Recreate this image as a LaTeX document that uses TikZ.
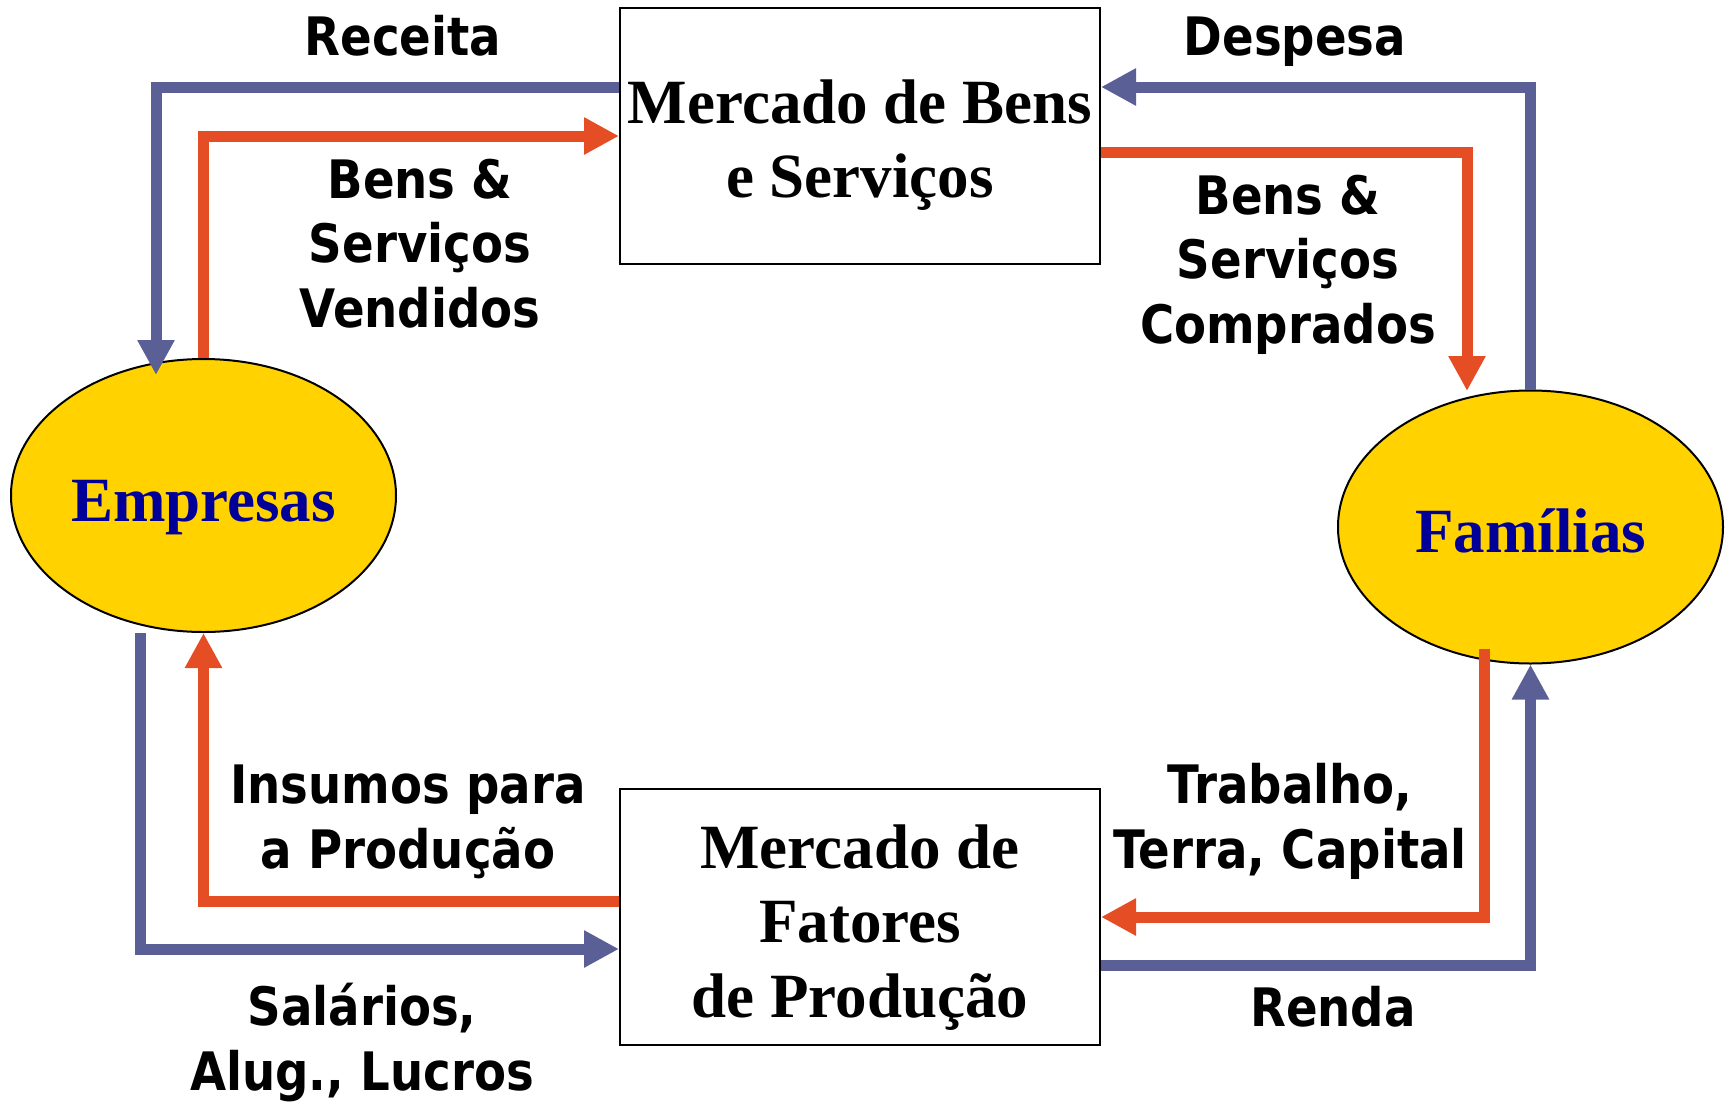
\documentclass[tikz,border=0pt]{standalone}
\usepackage{fontspec}
\setmainfont{Liberation Serif}
\newfontfamily\lab[FakeStretch=0.88]{DejaVu Sans}
\usetikzlibrary{arrows.meta,shapes.geometric}
\definecolor{flowblue}{RGB}{90,95,150}
\definecolor{floworange}{RGB}{229,78,36}
\definecolor{agentyellow}{RGB}{255,210,0}
\definecolor{agenttext}{RGB}{0,0,153}
\begin{document}
\begin{tikzpicture}[x=0.5pt,y=-0.5pt,
  market/.style={draw=black,line width=1pt,minimum width=240pt,minimum height=128pt,inner sep=0pt,
    font=\fontsize{31.5}{37.25}\selectfont\bfseries,align=center},
  agent/.style={ellipse,draw=black,line width=1pt,fill=agentyellow,minimum width=192.5pt,minimum height=136.5pt,
    inner sep=0pt,font=\fontsize{31.5}{37.25}\selectfont\bfseries,text=agenttext,text height=25.5pt,text depth=0pt},
  flow/.style={line width=5.5pt,line cap=butt,line join=miter,-{Triangle[length=17.5pt,width=17.5pt]}},
  money/.style={flow,draw=flowblue},
  goods/.style={flow,draw=floworange},
  lbl/.style={font=\lab\bfseries\fontsize{26.5}{32.25}\selectfont,align=center,anchor=base,inner sep=0pt}]
\useasboundingbox (0,0) rectangle (1731,1104);
% markets
\node[market,text height=65pt,text depth=3.5pt] (bens) at (860,136) {Mercado de Bens\\e Serviços};
\node[market,text height=105pt,text depth=5pt] (fat) at (860,917) {Mercado de\\Fatores\\de Produção};
% agents
\node[agent] (emp) at (203.5,495.5) {Empresas};
\node[agent] (fam) at (1530.5,527) {Famílias};
% helper coordinates
\coordinate (recTip) at (156,375);
\coordinate (compTip) at (1467,391);
% flows
\draw[money] ([yshift=-40pt]bens.north west) -| (recTip);
\draw[goods] (emp.north) |- (bens.west);
\draw[money] (fam.north) |- ([yshift=-40pt]bens.north east);
\draw[goods] ([yshift=-8pt]bens.east) -| (compTip);
\draw[money] ([xshift=-31.75pt]emp.south) |- ([yshift=-16pt]fat.west);
\draw[goods] ([yshift=8pt]fat.west) -| (emp.south);
\draw[goods] ([xshift=-23.25pt,yshift=8pt]fam.south) |- (fat.east);
\draw[money] ([yshift=-24pt]fat.east) -| (fam.south);
% labels (anchor = baseline of last line)
\node[lbl] (rec) at (403,55) {Receita};
\node[lbl] (desp) at (1295,55) {Despesa};
\node[lbl] (vend) at (420,327) {Bens \&\\Serviços\\Vendidos};
\node[lbl] (comp) at (1288,343) {Bens \&\\Serviços\\Comprados};
\node[lbl] (ins) at (408,868) {Insumos para\\a Produção};
\node[lbl] (sal) at (362,1090) {Salários,\\Alug., Lucros};
\node[lbl] (trab) at (1290,868) {Trabalho,\\Terra, Capital};
\node[lbl] (renda) at (1333,1026) {Renda};
\end{tikzpicture}
\end{document}
